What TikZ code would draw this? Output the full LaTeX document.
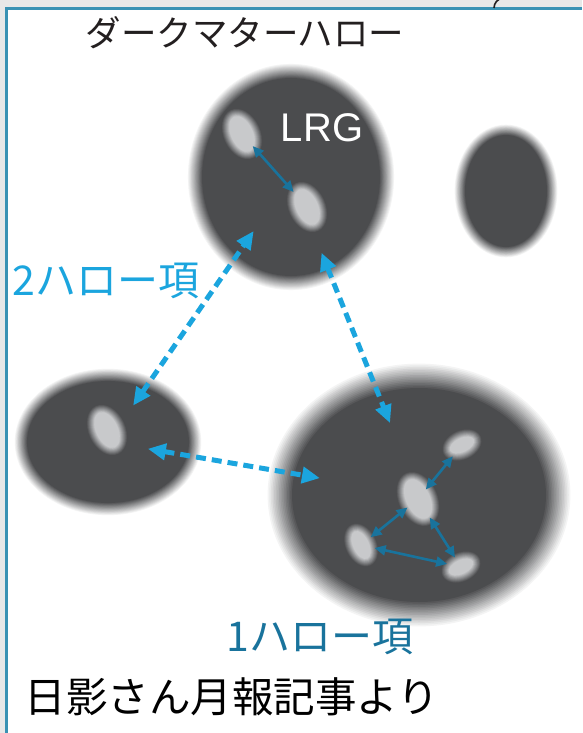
\documentclass[tikz,border=0pt]{standalone}
\usepackage{fontspec}
\setmainfont{Liberation Sans}
\newfontfamily\jpfont{Noto Sans CJK JP}
\usetikzlibrary{arrows.meta,shapes.geometric}

\definecolor{halogrey}{HTML}{4B4C4E}
\definecolor{galgrey}{HTML}{C8C9CB}
\definecolor{pairblue}{HTML}{19739C}
\definecolor{linkblue}{HTML}{1BA5DE}
\definecolor{framecol}{HTML}{3A92B4}
\definecolor{inkgrey}{HTML}{231F20}
\definecolor{bggrey}{HTML}{E8E8E8}

% blurred ellipse: centre, x radius, y radius, fade, angle, core colour, rim colour
\newcommand{\softspot}[7]{%
    \foreach \k in {0,...,16}{
        \pgfmathsetmacro{\fr}{\k/16}
        \pgfmathtruncatemacro{\pc}{100*\fr}
        \fill[#6!\pc!#7, rotate around={#5:(#1)}]
            (#1) ellipse [x radius={#2-#4*\fr}, y radius={#3-#4*\fr}];
    }
}

\begin{document}
\begin{tikzpicture}[x=1pt,y=-1pt]
    \tikzset{
        halo/.style={ellipse, inner sep=0pt},
        galaxy/.style={ellipse, inner sep=0pt, rotate=25},
        pair/.style={pairblue, line width=2.6pt,
            {Triangle[length=11pt,width=10pt]}-{Triangle[length=11pt,width=10pt]}},
        link/.style={linkblue, line width=5pt, dash pattern=on 10pt off 6pt,
            {Triangle[length=18pt,width=16pt]}-{Triangle[length=18pt,width=16pt]}},
        jp/.style={font=\jpfont\fontsize{#1}{#1}\selectfont, inner sep=0pt}
    }
    \useasboundingbox (0,0) rectangle (582,733);

    % page frame
    \fill[bggrey] (0,0) rectangle (582,733);
    \fill[white] (6,9) rectangle (582,733);
    \draw[framecol, line width=3pt] (6,733) -- (6,9) -- (582,9);
    \draw[inkgrey, line width=1.6pt] (494,8) arc[start angle=180, end angle=260, radius=10];

    % dark matter halos
    \node[halo, minimum width=208pt, minimum height=228pt] (lrg) at (291,177) {};
    \node[halo, minimum width=104pt, minimum height=134pt] (lone) at (506,191) {};
    \node[halo, minimum width=188pt, minimum height=148pt] (side) at (108,442) {};
    \node[halo, minimum width=306pt, minimum height=266pt] (group) at (419,495) {};
    \softspot{lrg.center}{104}{114}{15}{0}{halogrey}{white}
    \softspot{lone.center}{52}{67}{11}{0}{halogrey}{white}
    \softspot{side.center}{94}{74}{13}{0}{halogrey}{white}
    \softspot{group.center}{153}{133}{26}{0}{halogrey}{white}

    % galaxies
    \node[galaxy, minimum width=36pt, minimum height=52pt] (la) at (242,134) {};
    \node[galaxy, minimum width=36pt, minimum height=52pt] (lb) at (307,207) {};
    \node[galaxy, minimum width=36pt, minimum height=52pt] (sa) at (107,430) {};
    \node[galaxy, minimum width=38pt, minimum height=56pt] (gc) at (418,499) {};
    \node[galaxy, minimum width=40pt, minimum height=28pt] (gt) at (462,445) {};
    \node[galaxy, minimum width=30pt, minimum height=44pt] (gl) at (361,545) {};
    \node[galaxy, minimum width=40pt, minimum height=28pt] (gr) at (461,567) {};
    \foreach \g/\rx/\ry in {la/19/27, lb/19/27, sa/19/27, gc/20/29, gt/21/15, gl/16/23, gr/21/15}{
        \softspot{\g.center}{\rx}{\ry}{8}{25}{galgrey}{halogrey}
    }

    % pairs inside one halo
    \draw[pair, shorten <=-9pt, shorten >=-5pt] (la) -- (lb);
    \draw[pair, shorten <=-8pt, shorten >=-4pt] (gc) -- (gt);
    \draw[pair, shorten <=-6pt, shorten >=-3pt] (gc) -- (gl);
    \draw[pair, shorten <=-6pt, shorten >=-3pt] (gc) -- (gr);
    \draw[pair, shorten <=-3pt, shorten >=-3pt] (gl) -- (gr);

    % pairs across halos
    \draw[link, shorten <=-35pt, shorten >=-45pt] (side) -- (lrg);
    \draw[link, shorten <=-31pt, shorten >=-58pt] (lrg) -- (group);
    \draw[link, shorten <=-53pt, shorten >=-52pt] (side) -- (group);

    % labels
    \node[jp=35.5, text=inkgrey] (title) at (245,33) {ダークマターハロー};
    \node[font=\fontsize{40}{40}\selectfont, text=white, inner sep=0pt] (lrgname) at (322,128) {LRG};
    \node[jp=41, text=linkblue] (twohalo) at (106,281) {2ハロー項};
    \node[jp=41, text=pairblue] (onehalo) at (320,637) {1ハロー項};
    \node[jp=41.5, text=black] (source) at (232,697) {日影さん月報記事より};
\end{tikzpicture}
\end{document}
